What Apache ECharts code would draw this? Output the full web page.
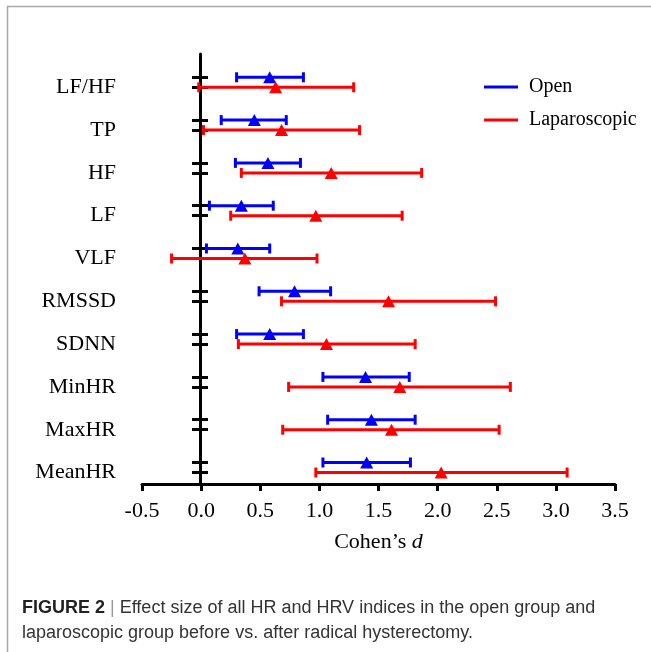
<!DOCTYPE html>
<html>
<head>
<meta charset="utf-8" />
<title>Cohen's d</title>
<script src="https://cdn.jsdelivr.net/npm/echarts@6/dist/echarts.min.js"></script>
<style>
html, body { margin: 0; padding: 0; background: #fff; }
#chart { width: 651px; height: 652px; }
</style>
</head>
<body>
<div id="chart"></div>
<script type="text/javascript">
// indices, top to bottom
var indices = ['LF/HF', 'TP', 'HF', 'LF', 'VLF', 'RMSSD', 'SDNN', 'MinHR', 'MaxHR', 'MeanHR'];
// open group: effect size and its interval
var openMean = [0.58, 0.45, 0.565, 0.34, 0.31, 0.79, 0.58, 1.39, 1.44, 1.40];
var openLow = [0.30, 0.17, 0.29, 0.07, 0.045, 0.49, 0.30, 1.03, 1.07, 1.03];
var openHigh = [0.865, 0.72, 0.84, 0.61, 0.58, 1.095, 0.865, 1.76, 1.81, 1.77];
// laparoscopic group
var lapMean = [0.63, 0.68, 1.10, 0.97, 0.37, 1.585, 1.06, 1.68, 1.61, 2.03];
var lapLow = [-0.02, 0.02, 0.34, 0.25, -0.25, 0.68, 0.315, 0.74, 0.69, 0.97];
var lapHigh = [1.29, 1.34, 1.865, 1.70, 0.98, 2.49, 1.81, 2.615, 2.52, 3.095];
var xTicks = [-0.5, 0.0, 0.5, 1.0, 1.5, 2.0, 2.5, 3.0, 3.5];

var LAP_SHIFT = 0.234; // red row sits a little below the blue one
var SERIF = 'Liberation Serif';

var tickVals = [], labelVals = [];
var openBars = [], lapBars = [], openPts = [], lapPts = [];
for (var i = 0; i < indices.length; i++) {
	tickVals.push(i, i + LAP_SHIFT);
	labelVals.push(i + LAP_SHIFT);
	openBars.push([openLow[i], openHigh[i], i]);
	lapBars.push([lapLow[i], lapHigh[i], i + LAP_SHIFT]);
	openPts.push([openMean[i], i]);
	lapPts.push([lapMean[i], i + LAP_SHIFT]);
}

function errorBar(color) {
	return function(params, api) {
		var y = api.value(2);
		var a = api.coord([api.value(0), y]);
		var b = api.coord([api.value(1), y]);
		var h = 5;
		var st = { stroke: color, lineWidth: 3 };
		return {
			type : 'group',
			children : [
				{ type : 'line', shape : { x1 : a[0], y1 : a[1], x2 : b[0], y2 : b[1] }, style : st },
				{ type : 'line', shape : { x1 : a[0], y1 : a[1] - h, x2 : a[0], y2 : a[1] + h }, style : st },
				{ type : 'line', shape : { x1 : b[0], y1 : b[1] - h, x2 : b[0], y2 : b[1] + h }, style : st }
			]
		};
	};
}

var yBase = {
	type : 'value',
	inverse : true,
	min : -0.544,
	max : 9.502,
	position : 'left',
	offset : -58,
	splitLine : { show : false }
};

var myChart = echarts.init(document.getElementById('chart'));
myChart.setOption({
	animation : false,
	color : [ '#0000ff', '#ff0000' ],
	grid : {
		left : 142,
		right : 36,
		top : 54,
		bottom : 168
	},
	legend : {
		orient : 'vertical',
		left : 484,
		top : 77,
		padding : 0,
		itemWidth : 34,
		itemHeight : 3,
		itemGap : 13,
		data : [ { name : 'Open', icon : 'rect' }, { name : 'Laparoscopic', icon : 'rect' } ],
		textStyle : {
			fontFamily : SERIF,
			fontSize : 20,
			lineHeight : 20,
			color : '#000',
			padding : [ 0, 0, 0, 6 ]
		}
	},
	xAxis : {
		type : 'value',
		min : -0.5,
		max : 3.5,
		interval : 0.5,
		name : 'Cohen\u2019s {i|d}',
		nameLocation : 'middle',
		nameGap : 47,
		nameTextStyle : {
			fontFamily : SERIF,
			fontSize : 22,
			color : '#000',
			rich : {
				i : { fontFamily : SERIF, fontSize : 22, fontStyle : 'italic', color : '#000' }
			}
		},
		axisLine : { onZero : false, lineStyle : { color : '#000', width : 3 } },
		axisTick : { length : 7, lineStyle : { color : '#000', width : 3 } },
		axisLabel : {
			margin : 16,
			fontFamily : SERIF,
			fontSize : 22,
			color : '#000',
			customValues : xTicks,
			formatter : function(v) { return v.toFixed(1); }
		},
		splitLine : { show : false }
	},
	yAxis : [
		echarts.util.merge({
			axisLine : { onZero : false, lineStyle : { color : '#000', width : 3 } },
			axisTick : { length : 8, customValues : tickVals, lineStyle : { color : '#000', width : 3 } },
			axisLabel : {
				margin : 84,
				fontFamily : SERIF,
				fontSize : 22,
				color : '#000',
				customValues : labelVals,
				formatter : function(v) { return indices[Math.round(v - LAP_SHIFT)]; }
			}
		}, yBase),
		echarts.util.merge({
			axisLine : { show : false, onZero : false },
			axisTick : { inside : true, length : 8, customValues : tickVals, lineStyle : { color : '#000', width : 3 } },
			axisLabel : { show : false }
		}, yBase)
	],
	series : [ {
		name : 'Open',
		type : 'custom',
		itemStyle : { color : '#0000ff' },
		renderItem : errorBar('#0000ff'),
		encode : { x : [ 0, 1 ], y : 2 },
		data : openBars,
		z : 3
	}, {
		name : 'Laparoscopic',
		type : 'custom',
		itemStyle : { color : '#ff0000' },
		renderItem : errorBar('#ff0000'),
		encode : { x : [ 0, 1 ], y : 2 },
		data : lapBars,
		z : 3
	}, {
		name : 'Open',
		type : 'scatter',
		symbol : 'triangle',
		symbolSize : [ 13, 12 ],
		itemStyle : { color : '#0000ff', opacity : 1 },
		data : openPts,
		z : 4
	}, {
		name : 'Laparoscopic',
		type : 'scatter',
		symbol : 'triangle',
		symbolSize : [ 13, 12 ],
		itemStyle : { color : '#ff0000', opacity : 1 },
		data : lapPts,
		z : 4
	} ],
	graphic : [ {
		type : 'rect',
		shape : { x : 7.5, y : 6.5, width : 700, height : 700 },
		style : { fill : 'none', stroke : '#a8a8a8', lineWidth : 1.5 },
		silent : true
	}, {
		type : 'text',
		left : 22,
		top : 599,
		style : {
			text : '{b|FIGURE 2} {s||} Effect size of all HR and HRV indices in the open group and',
			font : '18px "Liberation Sans"',
			fill : '#333',
			rich : {
				b : { fontFamily : 'Liberation Sans', fontSize : 18, fontWeight : 'bold', fill : '#222' },
				s : { fontFamily : 'Liberation Sans', fontSize : 18, fill : '#999' }
			}
		}
	}, {
		type : 'text',
		left : 22,
		top : 624,
		style : {
			text : 'laparoscopic group before vs. after radical hysterectomy.',
			font : '18px "Liberation Sans"',
			fill : '#333'
		}
	} ]
});
</script>
</body>
</html>
